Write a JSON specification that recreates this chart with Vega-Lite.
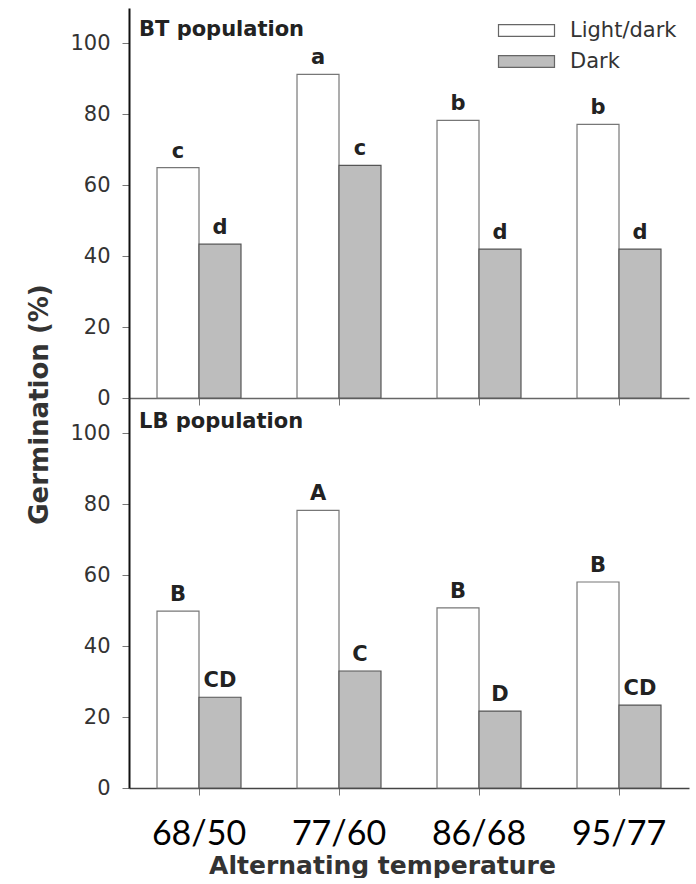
{
  "$schema": "https://vega.github.io/schema/vega-lite/v6.json",
  "background": "white",
  "padding": {"left": 26, "top": 8, "right": 4, "bottom": 0},
  "spacing": 0,
  "bounds": "flush",
  "config": {
    "view": {"stroke": null},
    "font": "DejaVu Sans",
    "axis": {"grid": false, "domainColor": "#555", "tickColor": "#777", "labelColor": "#333", "titleColor": "#333"}
  },
  "datasets": {
    "germ": [
      {"pop": "BT", "temp": "68/50", "light": "Light/dark", "value": 65.0, "letter": "c"},
      {"pop": "BT", "temp": "68/50", "light": "Dark", "value": 43.4, "letter": "d"},
      {"pop": "BT", "temp": "77/60", "light": "Light/dark", "value": 91.3, "letter": "a"},
      {"pop": "BT", "temp": "77/60", "light": "Dark", "value": 65.6, "letter": "c"},
      {"pop": "BT", "temp": "86/68", "light": "Light/dark", "value": 78.3, "letter": "b"},
      {"pop": "BT", "temp": "86/68", "light": "Dark", "value": 42.0, "letter": "d"},
      {"pop": "BT", "temp": "95/77", "light": "Light/dark", "value": 77.2, "letter": "b"},
      {"pop": "BT", "temp": "95/77", "light": "Dark", "value": 42.0, "letter": "d"},
      {"pop": "LB", "temp": "68/50", "light": "Light/dark", "value": 49.9, "letter": "B"},
      {"pop": "LB", "temp": "68/50", "light": "Dark", "value": 25.6, "letter": "CD"},
      {"pop": "LB", "temp": "77/60", "light": "Light/dark", "value": 78.3, "letter": "A"},
      {"pop": "LB", "temp": "77/60", "light": "Dark", "value": 33.0, "letter": "C"},
      {"pop": "LB", "temp": "86/68", "light": "Light/dark", "value": 50.8, "letter": "B"},
      {"pop": "LB", "temp": "86/68", "light": "Dark", "value": 21.7, "letter": "D"},
      {"pop": "LB", "temp": "95/77", "light": "Light/dark", "value": 58.1, "letter": "B"},
      {"pop": "LB", "temp": "95/77", "light": "Dark", "value": 23.4, "letter": "CD"}
    ],
    "panels": [
      {"pop": "BT", "label": "BT population"},
      {"pop": "LB", "label": "LB population"}
    ]
  },
  "vconcat": [
    {
      "width": 560,
      "height": 390,
      "layer": [
        {
          "data": {"name": "germ"},
          "transform": [{"filter": "datum.pop == 'BT'"}],
          "mark": {"type": "bar", "strokeWidth": 1.2},
          "encoding": {
            "x": {"field": "temp", "type": "nominal", "sort": null, "scale": {"paddingInner": 0, "paddingOuter": 0},
                  "axis": {"title": null, "labels": false, "tickSize": 7, "domainWidth": 1.5, "domainColor": "#666"}},
            "xOffset": {"field": "light", "type": "nominal", "sort": ["Light/dark", "Dark"], "scale": {"paddingInner": 0, "paddingOuter": 0.667}},
            "y": {"field": "value", "type": "quantitative", "scale": {"domain": [0, 110], "nice": false},
                  "axis": {"values": [0, 20, 40, 60, 80, 100], "title": "Germination (%)", "titleY": 396, "titleFontSize": 26, "titleFontWeight": "bold", "titlePadding": 17,
                           "labelFontSize": 21, "labelPadding": 12, "tickSize": 7, "domainColor": "#111", "domainWidth": 2}},
            "fill": {"field": "light", "type": "nominal", "scale": {"domain": ["Light/dark", "Dark"], "range": ["white", "#bdbdbd"]},
                     "legend": {"title": null, "orient": "top-right", "offset": 12, "labelFontSize": 21, "labelColor": "#333", "labelOffset": 54,
                                "symbolType": "M-1,-0.85H7V0.85H-1Z", "symbolSize": 196, "symbolStrokeColor": "#666", "symbolStrokeWidth": 1.2, "rowPadding": 9}},
            "stroke": {"condition": {"test": "datum.light == 'Dark'", "value": "#555"}, "value": "#777"}
          }
        },
        {
          "data": {"name": "germ"},
          "transform": [{"filter": "datum.pop == 'BT'"}],
          "mark": {"type": "text", "baseline": "bottom", "dy": -6, "fontSize": 21, "fontWeight": "bold", "color": "#222"},
          "encoding": {
            "x": {"field": "temp", "type": "nominal", "sort": null},
            "xOffset": {"field": "light", "type": "nominal", "sort": ["Light/dark", "Dark"]},
            "y": {"field": "value", "type": "quantitative"},
            "text": {"field": "letter"}
          }
        },
        {
          "data": {"name": "panels"},
          "transform": [{"filter": "datum.pop == 'BT'"}],
          "mark": {"type": "text", "align": "left", "baseline": "top", "dx": 10, "dy": 11, "fontSize": 21, "fontWeight": "bold", "color": "#222"},
          "encoding": {
            "x": {"datum": "68/50", "type": "nominal", "bandPosition": 0},
            "y": {"datum": 110, "type": "quantitative"},
            "text": {"field": "label"}
          }
        }
      ]
    },
    {
      "width": 560,
      "height": 390,
      "layer": [
        {
          "data": {"name": "germ"},
          "transform": [{"filter": "datum.pop == 'LB'"}],
          "mark": {"type": "bar", "strokeWidth": 1.2},
          "encoding": {
            "x": {"field": "temp", "type": "nominal", "sort": null, "scale": {"paddingInner": 0, "paddingOuter": 0},
                  "axis": {"title": "Alternating temperature", "titleFontSize": 25, "titleFontWeight": "bold", "titleX": 253, "titleY": 85, "titleBaseline": "alphabetic", "titleAlign": "center",
                           "labelFont": "Lato", "labelFontSize": 34, "labelColor": "#000", "labelPadding": 22, "labelAngle": 0, "tickSize": 7, "domainWidth": 1.5, "domainColor": "#444"}},
            "xOffset": {"field": "light", "type": "nominal", "sort": ["Light/dark", "Dark"], "scale": {"paddingInner": 0, "paddingOuter": 0.667}},
            "y": {"field": "value", "type": "quantitative", "scale": {"domain": [0, 110], "nice": false},
                  "axis": {"values": [0, 20, 40, 60, 80, 100], "title": null, "labelFontSize": 21, "labelPadding": 12, "tickSize": 7, "domainColor": "#111", "domainWidth": 2}},
            "fill": {"field": "light", "type": "nominal", "scale": {"domain": ["Light/dark", "Dark"], "range": ["white", "#bdbdbd"]}, "legend": null},
            "stroke": {"condition": {"test": "datum.light == 'Dark'", "value": "#555"}, "value": "#777"}
          }
        },
        {
          "data": {"name": "germ"},
          "transform": [{"filter": "datum.pop == 'LB'"}],
          "mark": {"type": "text", "baseline": "bottom", "dy": -6, "fontSize": 21, "fontWeight": "bold", "color": "#222"},
          "encoding": {
            "x": {"field": "temp", "type": "nominal", "sort": null},
            "xOffset": {"field": "light", "type": "nominal", "sort": ["Light/dark", "Dark"]},
            "y": {"field": "value", "type": "quantitative"},
            "text": {"field": "letter"}
          }
        },
        {
          "data": {"name": "panels"},
          "transform": [{"filter": "datum.pop == 'LB'"}],
          "mark": {"type": "text", "align": "left", "baseline": "top", "dx": 10, "dy": 13, "fontSize": 21, "fontWeight": "bold", "color": "#222"},
          "encoding": {
            "x": {"datum": "68/50", "type": "nominal", "bandPosition": 0},
            "y": {"datum": 110, "type": "quantitative"},
            "text": {"field": "label"}
          }
        }
      ]
    }
  ]
}
